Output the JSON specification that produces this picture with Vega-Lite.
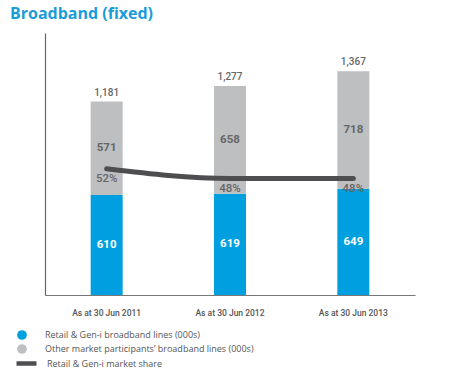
{
  "$schema": "https://vega.github.io/schema/vega-lite/v6.json",
  "width": 370,
  "height": 262,
  "autosize": {"type": "none"},
  "padding": {"left": 45, "top": 33, "right": 36, "bottom": 80},
  "background": "white",
  "title": {
    "text": "Broadband (fixed)",
    "anchor": "start",
    "frame": "group",
    "dx": -35,
    "offset": -2,
    "baseline": "alphabetic",
    "fontSize": 16,
    "fontWeight": "bold",
    "font": "Open Sans",
    "color": "#1a9cd8"
  },
  "config": {
    "view": {"stroke": null},
    "font": "Roboto"
  },
  "datasets": {
    "lines": [
      {"year": "As at 30 Jun 2011", "series": "Retail & Gen-i broadband lines (000s)", "value": 610},
      {"year": "As at 30 Jun 2011", "series": "Other market participants’ broadband lines (000s)", "value": 571},
      {"year": "As at 30 Jun 2012", "series": "Retail & Gen-i broadband lines (000s)", "value": 619},
      {"year": "As at 30 Jun 2012", "series": "Other market participants’ broadband lines (000s)", "value": 658},
      {"year": "As at 30 Jun 2013", "series": "Retail & Gen-i broadband lines (000s)", "value": 649},
      {"year": "As at 30 Jun 2013", "series": "Other market participants’ broadband lines (000s)", "value": 718}
    ],
    "share": [
      {"year": "As at 30 Jun 2011", "share": 0.52},
      {"year": "As at 30 Jun 2012", "share": 0.48},
      {"year": "As at 30 Jun 2013", "share": 0.48}
    ]
  },
  "layer": [
    {
      "data": {"name": "lines"},
      "layer": [
        {
          "mark": {"type": "bar", "width": 32},
          "encoding": {
            "x": {
              "field": "year", "type": "nominal",
              "scale": {"paddingInner": 0, "paddingOuter": 0},
              "axis": {
                "title": null, "ticks": false, "labelAngle": 0,
                "labelPadding": 13, "labelFontSize": 8.5, "labelFontWeight": 500,
                "labelColor": "#555555", "domainColor": "#777777", "domainWidth": 1.2
              }
            },
            "y": {
              "field": "value", "type": "quantitative",
              "scale": {"domain": [0, 1600], "nice": false},
              "axis": {"title": null, "labels": false, "ticks": false, "grid": false, "domainColor": "#666666", "domainWidth": 1.2}
            },
            "color": {
              "field": "series", "type": "nominal",
              "scale": {
                "domain": ["Retail & Gen-i broadband lines (000s)", "Other market participants’ broadband lines (000s)"],
                "range": ["#009fdf", "#bebfc1"]
              },
              "legend": {
                "title": null, "orient": "none", "legendX": -29, "legendY": 296,
                "symbolType": "circle", "symbolSize": 95, "labelFontSize": 9,
                "labelFont": "Open Sans",
                "labelColor": "#555555", "labelOffset": 17, "rowPadding": 3,
                "padding": 0, "labelLimit": 400
              }
            },
            "order": {"field": "series", "sort": "descending"}
          }
        },
        {
          "transform": [
            {"aggregate": [{"op": "sum", "field": "value", "as": "total"}], "groupby": ["year"]}
          ],
          "mark": {"type": "text", "dy": -9, "fontSize": 10, "fontWeight": 500, "color": "#666666"},
          "encoding": {
            "x": {"field": "year", "type": "nominal"},
            "y": {"field": "total", "type": "quantitative"},
            "text": {"field": "total", "type": "quantitative", "format": ","}
          }
        },
        {
          "transform": [
            {"stack": "value", "groupby": ["year"], "sort": [{"field": "series", "order": "descending"}], "as": ["v0", "v1"]},
            {"fold": ["v0", "v1"], "as": ["edge", "pos"]}
          ],
          "mark": {"type": "text", "fontSize": 11.5, "fontWeight": "bold"},
          "encoding": {
            "x": {"field": "year", "type": "nominal"},
            "y": {"aggregate": "mean", "field": "pos", "type": "quantitative"},
            "detail": {"field": "series", "type": "nominal"},
            "text": {"field": "value", "type": "quantitative"},
            "color": {
              "condition": {"test": "indexof(datum.series, 'Retail') === 0", "value": "white"},
              "value": "#666666"
            }
          }
        }
      ]
    },
    {
      "data": {"name": "share"},
      "layer": [
        {
          "mark": {"type": "line", "strokeWidth": 5, "strokeCap": "round", "interpolate": "monotone"},
          "encoding": {
            "x": {"field": "year", "type": "nominal"},
            "y": {"field": "share", "type": "quantitative", "scale": {"domain": [0, 1.08], "nice": false}, "axis": null},
            "stroke": {
              "datum": "Retail & Gen-i market share",
              "scale": {"range": ["#4e4e50"]},
              "legend": {
                "title": null, "orient": "none", "legendX": -31, "legendY": 318,
                "symbolType": "stroke", "symbolSize": 400, "symbolStrokeWidth": 4.5,
                "labelFontSize": 9, "labelFont": "Open Sans",
                "labelColor": "#555555", "labelOffset": 8,
                "padding": 0, "labelLimit": 400
              }
            }
          }
        },
        {
          "mark": {"type": "text", "dy": 10, "fontSize": 11.5, "fontWeight": 500, "color": "#666666"},
          "encoding": {
            "x": {"field": "year", "type": "nominal"},
            "y": {"field": "share", "type": "quantitative"},
            "text": {"field": "share", "type": "quantitative", "format": ".0%"}
          }
        }
      ]
    }
  ],
  "resolve": {"scale": {"y": "independent"}}
}
